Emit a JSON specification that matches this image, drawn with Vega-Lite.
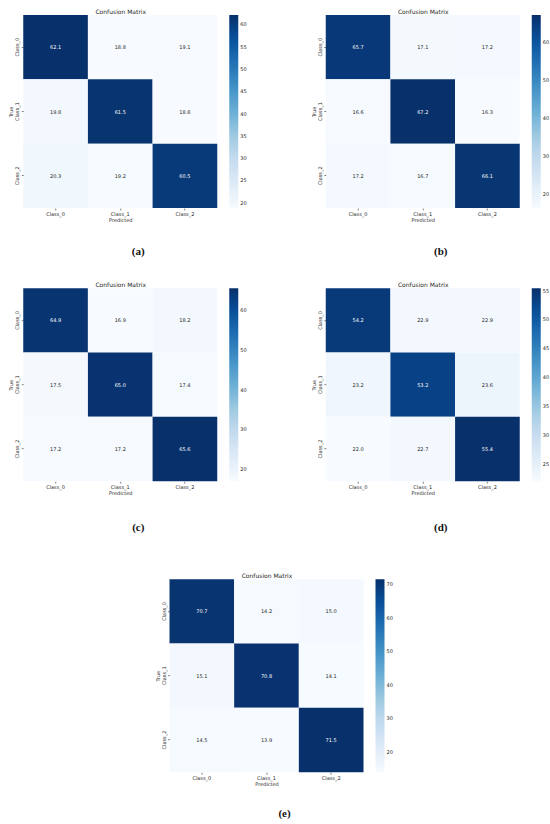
{
  "$schema": "https://vega.github.io/schema/vega-lite/v6.json",
  "background": "white",
  "padding": {"left": 8, "top": 8, "right": 0, "bottom": 0},
  "config": {
    "font": "DejaVu Sans",
    "view": {"stroke": null},
    "axis": {"grid": false, "domain": false, "tickSize": 2, "tickColor": "#333333", "tickWidth": 0.6, "labelFontSize": 5, "labelColor": "#262626", "titleFontSize": 5, "titleFontWeight": "normal", "titleColor": "#262626", "labelPadding": 1.5, "titlePadding": 1},
    "legend": {"labelFontSize": 5, "labelColor": "#262626", "gradientLength": 193, "gradientThickness": 9, "offset": 12, "padding": 0, "labelOverlap": false, "gradientStrokeWidth": 0, "labelOffset": 4},
    "title": {"font": "Liberation Serif", "fontSize": 11, "fontWeight": "bold", "color": "#111111", "frame": "group", "dx": 18}
  },
  "datasets": {
    "a": [
      {"true": "Class_0", "pred": "Class_0", "value": 62.1}, {"true": "Class_0", "pred": "Class_1", "value": 18.8}, {"true": "Class_0", "pred": "Class_2", "value": 19.1},
      {"true": "Class_1", "pred": "Class_0", "value": 19.8}, {"true": "Class_1", "pred": "Class_1", "value": 61.5}, {"true": "Class_1", "pred": "Class_2", "value": 18.8},
      {"true": "Class_2", "pred": "Class_0", "value": 20.3}, {"true": "Class_2", "pred": "Class_1", "value": 19.2}, {"true": "Class_2", "pred": "Class_2", "value": 60.5}
    ],
    "b": [
      {"true": "Class_0", "pred": "Class_0", "value": 65.7}, {"true": "Class_0", "pred": "Class_1", "value": 17.1}, {"true": "Class_0", "pred": "Class_2", "value": 17.2},
      {"true": "Class_1", "pred": "Class_0", "value": 16.6}, {"true": "Class_1", "pred": "Class_1", "value": 67.2}, {"true": "Class_1", "pred": "Class_2", "value": 16.3},
      {"true": "Class_2", "pred": "Class_0", "value": 17.2}, {"true": "Class_2", "pred": "Class_1", "value": 16.7}, {"true": "Class_2", "pred": "Class_2", "value": 66.1}
    ],
    "c": [
      {"true": "Class_0", "pred": "Class_0", "value": 64.9}, {"true": "Class_0", "pred": "Class_1", "value": 16.9}, {"true": "Class_0", "pred": "Class_2", "value": 18.2},
      {"true": "Class_1", "pred": "Class_0", "value": 17.5}, {"true": "Class_1", "pred": "Class_1", "value": 65.0}, {"true": "Class_1", "pred": "Class_2", "value": 17.4},
      {"true": "Class_2", "pred": "Class_0", "value": 17.2}, {"true": "Class_2", "pred": "Class_1", "value": 17.2}, {"true": "Class_2", "pred": "Class_2", "value": 65.6}
    ],
    "d": [
      {"true": "Class_0", "pred": "Class_0", "value": 54.2}, {"true": "Class_0", "pred": "Class_1", "value": 22.9}, {"true": "Class_0", "pred": "Class_2", "value": 22.9},
      {"true": "Class_1", "pred": "Class_0", "value": 23.2}, {"true": "Class_1", "pred": "Class_1", "value": 53.2}, {"true": "Class_1", "pred": "Class_2", "value": 23.6},
      {"true": "Class_2", "pred": "Class_0", "value": 22.0}, {"true": "Class_2", "pred": "Class_1", "value": 22.7}, {"true": "Class_2", "pred": "Class_2", "value": 55.4}
    ],
    "e": [
      {"true": "Class_0", "pred": "Class_0", "value": 70.7}, {"true": "Class_0", "pred": "Class_1", "value": 14.2}, {"true": "Class_0", "pred": "Class_2", "value": 15.0},
      {"true": "Class_1", "pred": "Class_0", "value": 15.1}, {"true": "Class_1", "pred": "Class_1", "value": 70.8}, {"true": "Class_1", "pred": "Class_2", "value": 14.1},
      {"true": "Class_2", "pred": "Class_0", "value": 14.5}, {"true": "Class_2", "pred": "Class_1", "value": 13.9}, {"true": "Class_2", "pred": "Class_2", "value": 71.5}
    ]
  },
  "resolve": {"scale": {"color": "independent"}, "legend": {"color": "independent"}},
  "spacing": 39.2,
  "center": true,
  "vconcat": [
    {
      "spacing": 24.2,
      "resolve": {"scale": {"color": "independent"}, "legend": {"color": "independent"}},
      "vconcat": [
        {
          "spacing": 63.5,
          "resolve": {"scale": {"color": "independent"}, "legend": {"color": "independent"}},
          "hconcat": [
            {
              "width": 194, "height": 193,
              "data": {"name": "a"},
              "title": {"text": "(a)", "orient": "bottom", "offset": 23},
              "resolve": {"axis": {"x": "independent"}},
              "layer": [
                {"mark": {"type": "rect"},
                 "encoding": {
                   "x": {"field": "pred", "type": "nominal", "sort": ["Class_0", "Class_1", "Class_2"], "scale": {"paddingInner": 0, "paddingOuter": 0}, "axis": {"labelAngle": 0, "title": "Predicted"}},
                   "y": {"field": "true", "type": "nominal", "sort": ["Class_0", "Class_1", "Class_2"], "scale": {"paddingInner": 0, "paddingOuter": 0}, "axis": {"labelAngle": -90, "labelAlign": "center", "labelBaseline": "bottom", "title": "True"}},
                   "color": {"field": "value", "type": "quantitative", "scale": {"zero": false, "nice": false, "interpolate": "rgb", "range": ["#f7fbff", "#deebf7", "#c6dbef", "#9ecae1", "#6baed6", "#4292c6", "#2171b5", "#08519c", "#08306b"]}, "legend": {"title": null, "values": [20, 25, 30, 35, 40, 45, 50, 55, 60]}}
                 }},
                {"mark": {"type": "text", "fontSize": 5},
                 "encoding": {
                   "x": {"field": "pred", "type": "nominal", "sort": ["Class_0", "Class_1", "Class_2"], "axis": {"orient": "top", "labels": false, "ticks": false, "title": "Confusion Matrix", "titleFontSize": 6, "titlePadding": 1}},
                   "y": {"field": "true", "type": "nominal", "sort": ["Class_0", "Class_1", "Class_2"]},
                   "text": {"field": "value", "type": "quantitative", "format": ".1f"},
                   "color": {"condition": {"test": "datum.value > 40", "value": "#ffffff"}, "value": "#262626"}
                 }}
              ]
            },
            {
              "width": 194, "height": 193,
              "data": {"name": "b"},
              "title": {"text": "(b)", "orient": "bottom", "offset": 23},
              "resolve": {"axis": {"x": "independent"}},
              "layer": [
                {"mark": {"type": "rect"},
                 "encoding": {
                   "x": {"field": "pred", "type": "nominal", "sort": ["Class_0", "Class_1", "Class_2"], "scale": {"paddingInner": 0, "paddingOuter": 0}, "axis": {"labelAngle": 0, "title": "Predicted"}},
                   "y": {"field": "true", "type": "nominal", "sort": ["Class_0", "Class_1", "Class_2"], "scale": {"paddingInner": 0, "paddingOuter": 0}, "axis": {"labelAngle": -90, "labelAlign": "center", "labelBaseline": "bottom", "title": "True"}},
                   "color": {"field": "value", "type": "quantitative", "scale": {"zero": false, "nice": false, "interpolate": "rgb", "range": ["#f7fbff", "#deebf7", "#c6dbef", "#9ecae1", "#6baed6", "#4292c6", "#2171b5", "#08519c", "#08306b"]}, "legend": {"title": null, "values": [20, 30, 40, 50, 60]}}
                 }},
                {"mark": {"type": "text", "fontSize": 5},
                 "encoding": {
                   "x": {"field": "pred", "type": "nominal", "sort": ["Class_0", "Class_1", "Class_2"], "axis": {"orient": "top", "labels": false, "ticks": false, "title": "Confusion Matrix", "titleFontSize": 6, "titlePadding": 1}},
                   "y": {"field": "true", "type": "nominal", "sort": ["Class_0", "Class_1", "Class_2"]},
                   "text": {"field": "value", "type": "quantitative", "format": ".1f"},
                   "color": {"condition": {"test": "datum.value > 40", "value": "#ffffff"}, "value": "#262626"}
                 }}
              ]
            }
          ]
        },
        {
          "spacing": 63.5,
          "resolve": {"scale": {"color": "independent"}, "legend": {"color": "independent"}},
          "hconcat": [
            {
              "width": 194, "height": 193,
              "data": {"name": "c"},
              "title": {"text": "(c)", "orient": "bottom", "offset": 26},
              "resolve": {"axis": {"x": "independent"}},
              "layer": [
                {"mark": {"type": "rect"},
                 "encoding": {
                   "x": {"field": "pred", "type": "nominal", "sort": ["Class_0", "Class_1", "Class_2"], "scale": {"paddingInner": 0, "paddingOuter": 0}, "axis": {"labelAngle": 0, "title": "Predicted"}},
                   "y": {"field": "true", "type": "nominal", "sort": ["Class_0", "Class_1", "Class_2"], "scale": {"paddingInner": 0, "paddingOuter": 0}, "axis": {"labelAngle": -90, "labelAlign": "center", "labelBaseline": "bottom", "title": "True"}},
                   "color": {"field": "value", "type": "quantitative", "scale": {"zero": false, "nice": false, "interpolate": "rgb", "range": ["#f7fbff", "#deebf7", "#c6dbef", "#9ecae1", "#6baed6", "#4292c6", "#2171b5", "#08519c", "#08306b"]}, "legend": {"title": null, "values": [20, 30, 40, 50, 60]}}
                 }},
                {"mark": {"type": "text", "fontSize": 5},
                 "encoding": {
                   "x": {"field": "pred", "type": "nominal", "sort": ["Class_0", "Class_1", "Class_2"], "axis": {"orient": "top", "labels": false, "ticks": false, "title": "Confusion Matrix", "titleFontSize": 6, "titlePadding": 1}},
                   "y": {"field": "true", "type": "nominal", "sort": ["Class_0", "Class_1", "Class_2"]},
                   "text": {"field": "value", "type": "quantitative", "format": ".1f"},
                   "color": {"condition": {"test": "datum.value > 40", "value": "#ffffff"}, "value": "#262626"}
                 }}
              ]
            },
            {
              "width": 194, "height": 193,
              "data": {"name": "d"},
              "title": {"text": "(d)", "orient": "bottom", "offset": 26},
              "resolve": {"axis": {"x": "independent"}},
              "layer": [
                {"mark": {"type": "rect"},
                 "encoding": {
                   "x": {"field": "pred", "type": "nominal", "sort": ["Class_0", "Class_1", "Class_2"], "scale": {"paddingInner": 0, "paddingOuter": 0}, "axis": {"labelAngle": 0, "title": "Predicted"}},
                   "y": {"field": "true", "type": "nominal", "sort": ["Class_0", "Class_1", "Class_2"], "scale": {"paddingInner": 0, "paddingOuter": 0}, "axis": {"labelAngle": -90, "labelAlign": "center", "labelBaseline": "bottom", "title": "True"}},
                   "color": {"field": "value", "type": "quantitative", "scale": {"zero": false, "nice": false, "interpolate": "rgb", "range": ["#f7fbff", "#deebf7", "#c6dbef", "#9ecae1", "#6baed6", "#4292c6", "#2171b5", "#08519c", "#08306b"]}, "legend": {"title": null, "values": [25, 30, 35, 40, 45, 50, 55]}}
                 }},
                {"mark": {"type": "text", "fontSize": 5},
                 "encoding": {
                   "x": {"field": "pred", "type": "nominal", "sort": ["Class_0", "Class_1", "Class_2"], "axis": {"orient": "top", "labels": false, "ticks": false, "title": "Confusion Matrix", "titleFontSize": 6, "titlePadding": 1}},
                   "y": {"field": "true", "type": "nominal", "sort": ["Class_0", "Class_1", "Class_2"]},
                   "text": {"field": "value", "type": "quantitative", "format": ".1f"},
                   "color": {"condition": {"test": "datum.value > 40", "value": "#ffffff"}, "value": "#262626"}
                 }}
              ]
            }
          ]
        }
      ]
    },
    {
      "width": 194, "height": 193,
      "data": {"name": "e"},
      "title": {"text": "(e)", "orient": "bottom", "offset": 21},
      "resolve": {"axis": {"x": "independent"}},
      "layer": [
        {"mark": {"type": "rect"},
         "encoding": {
           "x": {"field": "pred", "type": "nominal", "sort": ["Class_0", "Class_1", "Class_2"], "scale": {"paddingInner": 0, "paddingOuter": 0}, "axis": {"labelAngle": 0, "title": "Predicted"}},
           "y": {"field": "true", "type": "nominal", "sort": ["Class_0", "Class_1", "Class_2"], "scale": {"paddingInner": 0, "paddingOuter": 0}, "axis": {"labelAngle": -90, "labelAlign": "center", "labelBaseline": "bottom", "title": "True"}},
           "color": {"field": "value", "type": "quantitative", "scale": {"zero": false, "nice": false, "interpolate": "rgb", "range": ["#f7fbff", "#deebf7", "#c6dbef", "#9ecae1", "#6baed6", "#4292c6", "#2171b5", "#08519c", "#08306b"]}, "legend": {"title": " ", "titleOrient": "right", "titlePadding": 0, "values": [20, 30, 40, 50, 60, 70]}}
         }},
        {"mark": {"type": "text", "fontSize": 5},
         "encoding": {
           "x": {"field": "pred", "type": "nominal", "sort": ["Class_0", "Class_1", "Class_2"], "axis": {"orient": "top", "labels": false, "ticks": false, "title": "Confusion Matrix", "titleFontSize": 6, "titlePadding": 1}},
           "y": {"field": "true", "type": "nominal", "sort": ["Class_0", "Class_1", "Class_2"]},
           "text": {"field": "value", "type": "quantitative", "format": ".1f"},
           "color": {"condition": {"test": "datum.value > 40", "value": "#ffffff"}, "value": "#262626"}
         }}
      ]
    }
  ]
}
